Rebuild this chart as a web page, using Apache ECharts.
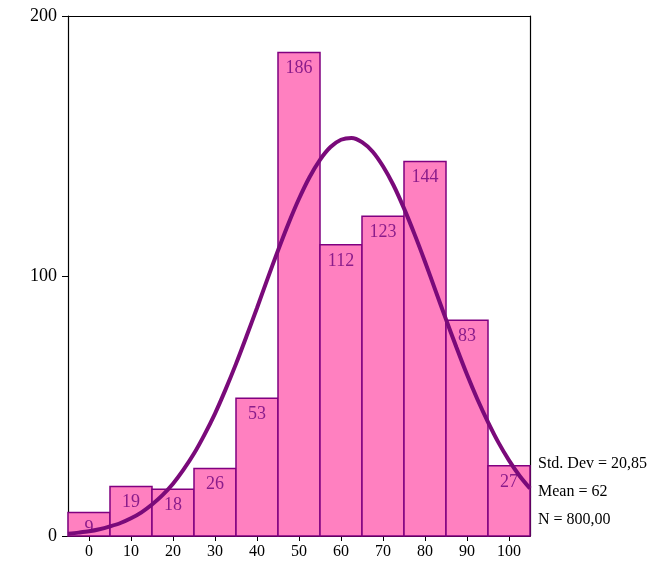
<!DOCTYPE html>
<html>
<head>
<meta charset="utf-8">
<script src="https://cdn.jsdelivr.net/npm/echarts@6/dist/echarts.min.js"></script>
<style>
html,body{margin:0;padding:0;background:#fff;}
#chart{width:662px;height:563px;}
</style>
</head>
<body>
<div id="chart"></div>
<script>
// Histogram bins (centres) and counts
var binCenters = [0, 10, 20, 30, 40, 50, 60, 70, 80, 90, 100];
var binCounts = [9, 19, 18, 26, 53, 186, 112, 123, 144, 83, 27];
var binWidth = 10;
// Fitted normal curve
var curveX = [-5, -2.5, 0, 2.5, 5, 7.5, 10, 12.5, 15, 17.5, 20, 22.5, 25, 27.5, 30, 32.5, 35, 37.5, 40, 42.5, 45, 47.5, 50, 52.5, 55, 57.5, 60, 62.5, 65, 67.5, 70, 72.5, 75, 77.5, 80, 82.5, 85, 87.5, 90, 92.5, 95, 97.5, 100, 102.5, 105];
var curveY = [0.9, 1.3, 1.8, 2.6, 3.7, 5.0, 6.8, 9.1, 12.1, 15.7, 20.1, 25.5, 31.7, 39.0, 47.1, 56.3, 66.2, 76.8, 87.7, 98.9, 109.8, 120.2, 129.7, 138.0, 144.7, 149.6, 152.4, 153.1, 151.5, 147.9, 142.2, 134.9, 126.0, 116.1, 105.5, 94.4, 83.3, 72.5, 62.1, 52.5, 43.8, 35.9, 29.1, 23.2, 18.3];
// Axis ticks
var xTicks = [0, 10, 20, 30, 40, 50, 60, 70, 80, 90, 100];
var yTicks = [0, 100, 200];
// Summary statistics
var statLines = ['Std. Dev = 20,85', 'Mean = 62', 'N = 800,00'];

var SERIF = '"Liberation Serif", "Times New Roman", "DejaVu Serif", serif';
var chart = echarts.init(document.getElementById('chart'));

var barData = binCenters.map(function (c, i) { return [c, binCounts[i]]; });
var curveData = curveX.map(function (x, i) { return [x, curveY[i]]; });

chart.setOption({
  animation: false,
  backgroundColor: '#fff',
  grid: { left: 68, right: 132, top: 16, bottom: 27, show: false },
  xAxis: [{
    type: 'value', min: -5, max: 105,
    splitLine: { show: false },
    axisLine: { show: true, onZero: false, lineStyle: { color: '#000', width: 1.2 } },
    axisTick: { show: true, inside: false, length: 5, lineStyle: { color: '#000' }, customValues: xTicks },
    axisLabel: { show: true, customValues: xTicks, fontFamily: SERIF, fontSize: 16, color: '#000', margin: 8 }
  }, {
    type: 'value', min: -5, max: 105, position: 'top',
    splitLine: { show: false },
    axisLine: { show: true, onZero: false, lineStyle: { color: '#000', width: 1.2 } },
    axisTick: { show: false }, axisLabel: { show: false }
  }],
  yAxis: [{
    type: 'value', min: 0, max: 200,
    splitLine: { show: false },
    axisLine: { show: true, onZero: false, lineStyle: { color: '#000', width: 1.2 } },
    axisTick: { show: true, inside: false, length: 6, lineStyle: { color: '#000' }, customValues: yTicks },
    axisLabel: { show: true, customValues: yTicks, fontFamily: SERIF, fontSize: 18, color: '#000', margin: 11 }
  }, {
    type: 'value', min: 0, max: 200, position: 'right',
    splitLine: { show: false },
    axisLine: { show: true, onZero: false, lineStyle: { color: '#000', width: 1.2 } },
    axisTick: { show: false }, axisLabel: { show: false }
  }],
  series: [
    {
      type: 'custom',
      data: barData,
      renderItem: function (params, api) {
        var c = api.value(0), v = api.value(1);
        var p0 = api.coord([c - binWidth / 2, v]);
        var p1 = api.coord([c + binWidth / 2, 0]);
        return {
          type: 'group',
          children: [
            {
              type: 'rect',
              shape: { x: p0[0], y: p0[1], width: p1[0] - p0[0], height: p1[1] - p0[1] },
              style: { fill: '#FF80C0', stroke: '#800080', lineWidth: 1.5 }
            },
            {
              type: 'text',
              x: (p0[0] + p1[0]) / 2, y: p0[1] + 7,
              style: { text: String(v), fill: '#8B1C8B', font: '18px ' + SERIF, align: 'center', verticalAlign: 'top' }
            }
          ]
        };
      },
      z: 2
    },
    {
      type: 'line',
      data: curveData,
      smooth: 0.3,
      symbol: 'none',
      lineStyle: { color: '#7A0A7A', width: 4 },
      z: 3
    }
  ],
  graphic: statLines.map(function (t, i) {
    return {
      type: 'text', left: 538, top: 456 + i * 28,
      style: { text: t, fill: '#000', font: '16px ' + SERIF }
    };
  })
});
</script>
</body>
</html>
